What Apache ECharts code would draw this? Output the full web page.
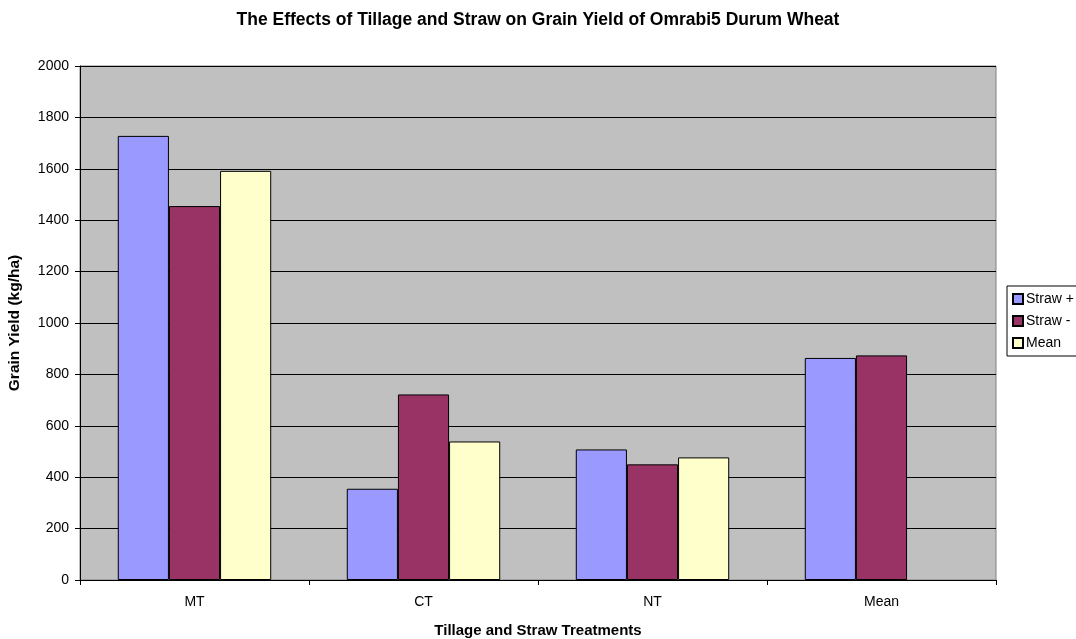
<!DOCTYPE html>
<html>
<head>
<meta charset="utf-8">
<script src="https://cdn.jsdelivr.net/npm/echarts@6/dist/echarts.min.js"></script>
<style>
  html, body { margin: 0; padding: 0; background: #fff; }
  #chart { width: 1076px; height: 639px; }
</style>
</head>
<body>
<div id="chart"></div>
<script>
// Grain yield (kg/ha) by tillage system and straw treatment
const categories = ['MT', 'CT', 'NT', 'Mean'];
const strawPlus  = [1728, 355, 508, 864];
const strawMinus = [1455, 722, 450, 874];
const meanValues = [1592, 539, 477, null];
const seriesNames = ['Straw +', 'Straw -', 'Mean'];
const seriesColors = ['#9999FF', '#993366', '#FFFFCC'];

const FONT = 'Liberation Sans, Arial, sans-serif';
const chart = echarts.init(document.getElementById('chart'), null, { renderer: 'canvas' });

const makeSeries = (name, data, color) => ({
  name: name,
  type: 'bar',
  data: data,
  barGap: '0%',
  barCategoryGap: '33%',
  itemStyle: { color: color, borderColor: '#000', borderWidth: 1 },
  emphasis: { disabled: true }
});

chart.setOption({
  animation: false,
  backgroundColor: '#fff',
  title: {
    text: 'The Effects of Tillage and Straw on Grain Yield of Omrabi5 Durum Wheat',
    left: 'center',
    top: 6,
    textStyle: { fontFamily: FONT, fontSize: 17.5, fontWeight: 'bold', color: '#000' }
  },
  legend: {
    orient: 'vertical',
    left: 1007,
    top: 286,
    itemWidth: 10,
    itemHeight: 10,
    itemGap: 8,
    padding: [6, 14, 6, 5],
    borderColor: '#000',
    borderWidth: 1,
    backgroundColor: '#fff',
    icon: 'rect',
    data: seriesNames,
    textStyle: { fontFamily: FONT, fontSize: 14, color: '#000', padding: [0, 0, 0, -2] }
  },
  grid: {
    left: 80, right: 80, top: 66, bottom: 59,
    outerBoundsMode: 'none',
    containLabel: false,
    show: true,
    backgroundColor: '#C0C0C0',
    borderColor: '#808080',
    borderWidth: 1
  },
  xAxis: {
    type: 'category',
    data: categories,
    name: 'Tillage and Straw Treatments',
    nameLocation: 'middle',
    nameGap: 43,
    nameTextStyle: { fontFamily: FONT, fontSize: 15, fontWeight: 'bold', color: '#000' },
    axisLine: { lineStyle: { color: '#000', width: 1 } },
    axisTick: { show: true, inside: false, length: 5, alignWithLabel: false, lineStyle: { color: '#000' } },
    axisLabel: { fontFamily: FONT, fontSize: 14, color: '#000', margin: 15 }
  },
  yAxis: {
    type: 'value',
    min: 0,
    max: 2000,
    interval: 200,
    name: 'Grain Yield (kg/ha)',
    nameLocation: 'middle',
    nameGap: 57,
    nameRotate: 90,
    nameTextStyle: { fontFamily: FONT, fontSize: 15.5, fontWeight: 'bold', color: '#000' },
    axisLine: { show: true, lineStyle: { color: '#000', width: 1 } },
    axisTick: { show: true, length: 5, lineStyle: { color: '#000' } },
    axisLabel: { fontFamily: FONT, fontSize: 14, color: '#000', margin: 11, formatter: (v) => String(v) },
    splitLine: { show: true, lineStyle: { color: '#000', width: 1 } }
  },
  series: [
    makeSeries(seriesNames[0], strawPlus, seriesColors[0]),
    makeSeries(seriesNames[1], strawMinus, seriesColors[1]),
    makeSeries(seriesNames[2], meanValues, seriesColors[2])
  ]
});
</script>
</body>
</html>
